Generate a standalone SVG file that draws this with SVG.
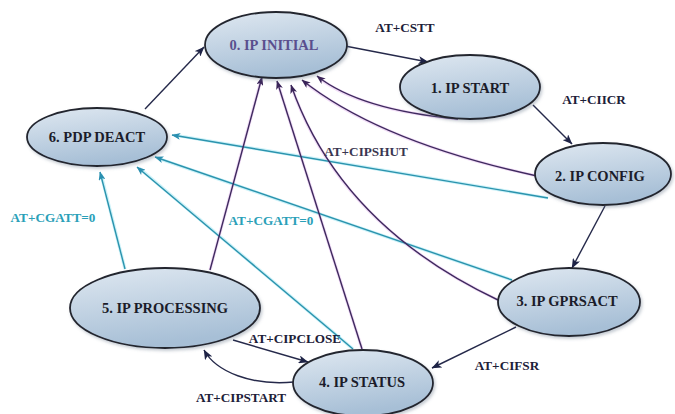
<svg xmlns="http://www.w3.org/2000/svg" width="675" height="414" viewBox="0 0 675 414">
  <style>
    .node ellipse { fill: url(#nodeFill); stroke: #24252f; stroke-width: 1.8; filter: url(#soft); }
    .node text { font-family: "Liberation Serif", "Times New Roman", serif; font-weight: bold; font-size: 14.5px; fill: #1b1c2a; text-anchor: middle; }
    .node text.init { fill: #5a4f8e; }
    .flow { fill: none; stroke: #25294a; stroke-width: 1.4; marker-end: url(#arrNavy); }
    .shut { fill: none; stroke: #3e2a5e; stroke-width: 1.4; marker-end: url(#arrPurple); }
    .shut-halo { fill: none; stroke: #e3b8ef; stroke-width: 3; opacity: 0.5; }
    .deact { fill: none; stroke: #2b93ad; stroke-width: 1.4; marker-end: url(#arrCyan); }
    .deact-halo { fill: none; stroke: #8fe3f2; stroke-width: 3.2; opacity: 0.45; }
    .lbl { font-family: "Liberation Serif", "Times New Roman", serif; font-weight: bold; font-size: 13.2px; fill: #1c2038; text-anchor: middle; }
    .lbl.shutl { fill: #3a3650; }
    .lbl.cg { fill: #2aa0b8; }
  </style>
  <defs>
    <linearGradient id="nodeFill" x1="0" y1="0" x2="0.3" y2="1">
      <stop offset="0" stop-color="#dfe8f1"/>
      <stop offset="1" stop-color="#a7bfd6"/>
    </linearGradient>
    <filter id="soft" x="-10%" y="-10%" width="125%" height="130%">
      <feDropShadow dx="1.5" dy="2" stdDeviation="1.5" flood-color="#5a6a80" flood-opacity="0.35"/>
    </filter>
    <marker id="arrNavy" viewBox="0 0 10 8" refX="9.5" refY="4" markerWidth="10" markerHeight="8" markerUnits="userSpaceOnUse" orient="auto">
      <path d="M0,0 L10,4 L0,8 L2.5,4 Z" fill="#1e2346"/>
    </marker>
    <marker id="arrPurple" viewBox="0 0 10 8" refX="9.5" refY="4" markerWidth="9" markerHeight="7" markerUnits="userSpaceOnUse" orient="auto">
      <path d="M0,0 L10,4 L0,8 L2.5,4 Z" fill="#3a2458"/>
    </marker>
    <marker id="arrCyan" viewBox="0 0 10 8" refX="9.5" refY="4" markerWidth="9" markerHeight="7" markerUnits="userSpaceOnUse" orient="auto">
      <path d="M0,0 L10,4 L0,8 L2.5,4 Z" fill="#2a8fb0"/>
    </marker>
  </defs>

  <rect width="675" height="414" fill="#ffffff"/>

  <!-- connectors -->
  <g id="connectors">
    <!-- soft halos under the AT+CIPSHUT and AT+CGATT=0 lines -->
    <g id="halos">
      <path class="deact-halo" d="M548,198 L174,135"/>
      <path class="deact-halo" d="M512,280 L157,158"/>
      <path class="deact-halo" d="M353,349 L139,168"/>
      <path class="deact-halo" d="M125,269 L101,174"/>
      <path class="shut-halo" d="M210,270 L261,80"/>
      <path class="shut-halo" d="M362,349 L278,84"/>
      <path class="shut-halo" d="M498,300 Q340,225 292,88"/>
      <path class="shut-halo" d="M537,176 Q380,142 304,82"/>
      <path class="shut-halo" d="M458,119 Q360,110 319,78"/>
    </g>
    <!-- AT+CGATT=0 : back to PDP DEACT -->
    <path class="deact" d="M548,198 L172,135"/>
    <path class="deact" d="M512,280 L155,157"/>
    <path class="deact" d="M353,349 L137,167"/>
    <path class="deact" d="M125,269 L100,172"/>
    <!-- AT+CIPSHUT : back to IP INITIAL -->
    <path class="shut" d="M210,270 L262,77"/>
    <path class="shut" d="M362,349 L277,81"/>
    <path class="shut" d="M498,300 Q340,225 291,85"/>
    <path class="shut" d="M537,176 Q380,142 302,80"/>
    <path class="shut" d="M458,119 Q360,110 317,76"/>
    <!-- main sequence -->
    <path class="flow" d="M145,109 L204,47"/>
    <path class="flow" d="M345,46 L428,62"/>
    <path class="flow" d="M533,105 L572,144"/>
    <path class="flow" d="M605,206 L572,268"/>
    <path class="flow" d="M516,327 L432,368"/>
    <path class="flow" d="M233,340 L308,362"/>
    <path class="flow" d="M294,382 C252,386 216,372 204,350"/>
  </g>

  <!-- transition labels -->
  <g id="labels">
    <text class="lbl" x="405" y="32">AT+CSTT</text>
    <text class="lbl" x="594" y="104">AT+CIICR</text>
    <text class="lbl shutl" x="366" y="156">AT+CIPSHUT</text>
    <text class="lbl cg" x="53" y="222">AT+CGATT=0</text>
    <text class="lbl cg" x="271" y="225">AT+CGATT=0</text>
    <text class="lbl" x="295" y="343">AT+CIPCLOSE</text>
    <text class="lbl" x="241" y="402">AT+CIPSTART</text>
    <text class="lbl" x="507" y="370">AT+CIFSR</text>
  </g>

  <!-- states -->
  <g id="ip-initial" class="node">
    <ellipse cx="276" cy="45" rx="71" ry="33"/>
    <text class="init" x="274" y="50">0. IP INITIAL</text>
  </g>
  <g id="ip-start" class="node">
    <ellipse cx="470" cy="87" rx="70" ry="32"/>
    <text x="470" y="93">1. IP START</text>
  </g>
  <g id="ip-config" class="node">
    <ellipse cx="603" cy="174" rx="68" ry="31"/>
    <text x="600" y="181">2. IP CONFIG</text>
  </g>
  <g id="ip-gprsact" class="node">
    <ellipse cx="569" cy="302" rx="71" ry="34"/>
    <text x="567" y="306">3. IP GPRSACT</text>
  </g>
  <g id="ip-status" class="node">
    <ellipse cx="363" cy="383" rx="70" ry="33"/>
    <text x="362" y="387">4. IP STATUS</text>
  </g>
  <g id="ip-processing" class="node">
    <ellipse cx="165" cy="308" rx="95" ry="40"/>
    <text x="165" y="313">5. IP PROCESSING</text>
  </g>
  <g id="pdp-deact" class="node">
    <ellipse cx="97" cy="137" rx="70" ry="29"/>
    <text x="97" y="142">6. PDP DEACT</text>
  </g>
</svg>
